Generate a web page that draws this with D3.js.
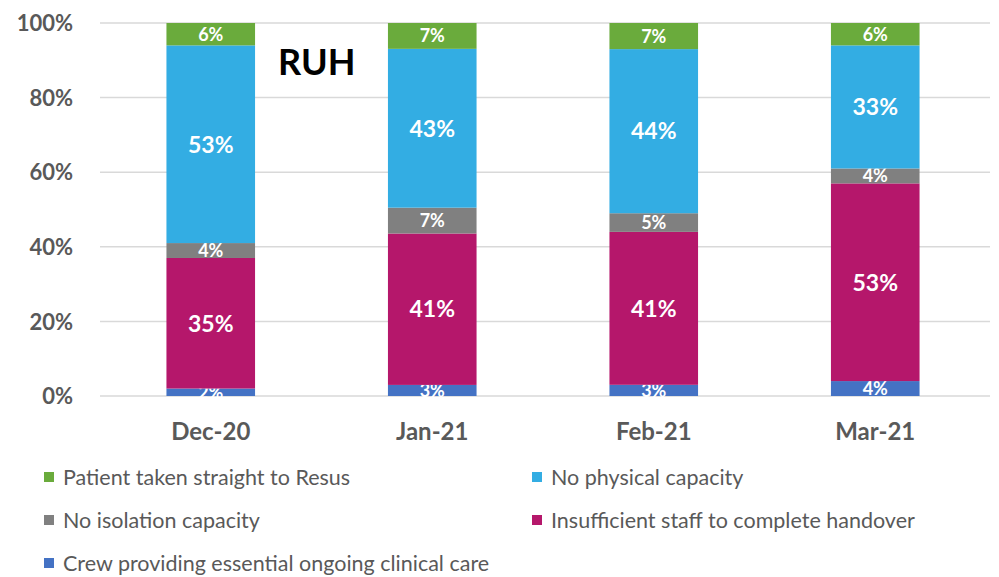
<!DOCTYPE html>
<meta charset="utf-8">
<style>
body { margin: 0; background: #fff; }
text { font-family: Lato, "Open Sans", sans-serif; }
.tick text { fill: #595959; font-weight: bold; font-size: 22px; }
.xaxis .tick text { font-size: 24px; }
.legend text { fill: #595959; font-size: 21.5px; }
</style>
<svg width="999" height="577"></svg>
<script src="https://d3js.org/d3.v7.min.js"></script>
<script>

var months = ["Dec-20", "Jan-21", "Feb-21", "Mar-21"];
// values in %, bottom to top
var crew = [2, 3, 3, 4];
var staff = [35, 41, 41, 53];
var isolation = [4, 7, 5, 4];
var physical = [53, 43, 44, 33];
var resus = [6, 7, 7, 6];
var yTicks = [0, 20, 40, 60, 80, 100];

var series = [
  {name: "Crew providing essential ongoing clinical care", values: crew, color: "#4472c4"},
  {name: "Insufficient staff to complete handover", values: staff, color: "#b5176b"},
  {name: "No isolation capacity", values: isolation, color: "#808080"},
  {name: "No physical capacity", values: physical, color: "#33ade3"},
  {name: "Patient taken straight to Resus", values: resus, color: "#6aab3c"}
];
var legendOrder = [4, 3, 2, 1, 0];

var svg = d3.select("svg");
var pLeft = 100, pRight = 986, pTop = 23, pBottom = 396;

var x = d3.scaleBand().domain(months).range([pLeft, pRight]).paddingInner(0.6).paddingOuter(0.3);
var y = d3.scaleLinear().domain([0, 100]).range([pBottom, pTop]);

// grid
svg.append("g").selectAll("line").data(yTicks).join("line")
  .attr("x1", pLeft).attr("x2", 990)
  .attr("y1", d => y(d)).attr("y2", d => y(d))
  .attr("stroke", "#d9d9d9").attr("stroke-width", 1.5);

var yAxis = svg.append("g").attr("transform", "translate(" + pLeft + ",0)")
  .call(d3.axisLeft(y).tickValues(yTicks).tickFormat(d => d + "%").tickSize(0).tickPadding(27));
yAxis.select(".domain").remove();
yAxis.selectAll("text").attr("dy", "0.35em");

var xAxis = svg.append("g").attr("class", "xaxis").attr("transform", "translate(0," + pBottom + ")")
  .call(d3.axisBottom(x).tickSize(0).tickPadding(27));
xAxis.select(".domain").remove();

// stack, normalised to 100
var rows = months.map(function(m, i) {
  var r = {month: m};
  var tot = d3.sum(series, s => s.values[i]);
  series.forEach(function(s) { r[s.name] = s.values[i] * 100 / tot; r[s.name + "_lbl"] = s.values[i]; });
  return r;
});
var stack = d3.stack().keys(series.map(s => s.name))(rows);

svg.append("clipPath").attr("id", "plot")
  .append("rect").attr("x", 0).attr("y", 0).attr("width", 999).attr("height", pBottom + 1);

var layer = svg.append("g").attr("clip-path", "url(#plot)").selectAll("g").data(stack).join("g")
  .attr("fill", (d, i) => series[i].color);

layer.selectAll("rect").data(d => d).join("rect")
  .attr("x", d => x(d.data.month))
  .attr("width", x.bandwidth())
  .attr("y", d => y(d[1]))
  .attr("height", d => y(d[0]) - y(d[1]));

layer.each(function(s) {
  d3.select(this).selectAll("text").data(s).join("text")
    .attr("x", d => x(d.data.month) + x.bandwidth() / 2)
    .attr("y", d => (y(d[0]) + y(d[1])) / 2)
    .attr("dy", "0.36em")
    .attr("text-anchor", "middle")
    .attr("fill", "#fff")
    .attr("font-weight", "bold")
    .attr("font-size", d => d.data[s.key + "_lbl"] < 10 ? 18 : 23)
    .text(d => d.data[s.key + "_lbl"] + "%");
});

svg.append("text").attr("x", 278).attr("y", 75)
  .attr("font-size", 36).attr("font-weight", "bold").attr("fill", "#000").text("RUH");

// legend
var legend = svg.append("g").attr("class", "legend").selectAll("g").data(legendOrder).join("g")
  .attr("transform", (d, i) => "translate(" + (i % 2 ? 532 : 44) + "," + (477 + Math.floor(i / 2) * 43) + ")");
legend.append("rect").attr("x", 0).attr("y", -5).attr("width", 10).attr("height", 10)
  .attr("fill", d => series[d].color);
legend.append("text").attr("x", 19).attr("dy", "0.35em").text(d => series[d].name);

</script>
